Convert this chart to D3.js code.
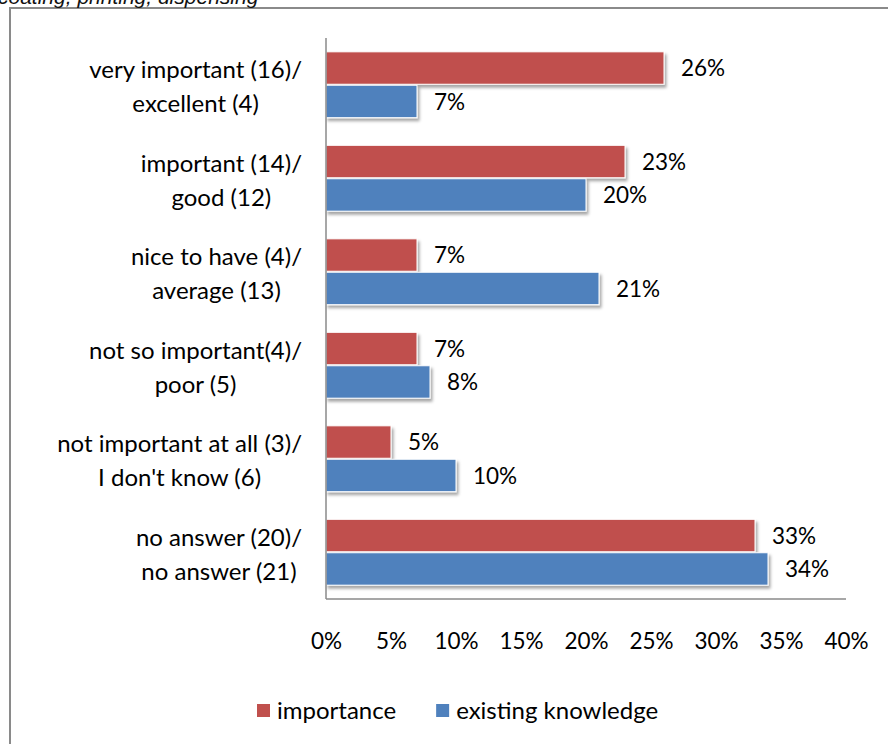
<!DOCTYPE html>
<html>
<head>
<meta charset="utf-8">
<script src="https://cdn.jsdelivr.net/npm/d3@7"></script>
<style>
  html, body { margin: 0; padding: 0; background: #fff; }
  svg { display: block; }
</style>
</head>
<body>
<svg id="chart" width="888" height="744"></svg>
<script>
// Survey answers: rating of importance vs. rating of existing knowledge
const categories = [
  ["very important (16)/", "excellent (4)"],
  ["important (14)/", "good (12)"],
  ["nice to have (4)/", "average (13)"],
  ["not so important(4)/", "poor (5)"],
  ["not important at all (3)/", "I don't know (6)"],
  ["no answer (20)/", "no answer (21)"]
];
const seriesNames = ["importance", "existing knowledge"];
const importance = [26, 23, 7, 7, 5, 33];
const existingKnowledge = [7, 20, 21, 8, 10, 34];
const xTicks = [0, 5, 10, 15, 20, 25, 30, 35, 40];
const colors = ["#C0504D", "#4F81BD"];

const svg = d3.select("#chart");
const font = "Lato, 'Open Sans', sans-serif";
const textSize = 24;
const numSize = 22.5;

// drop shadow for bars
const defs = svg.append("defs");
const f = defs.append("filter").attr("id", "shadow")
  .attr("x", "-5%").attr("y", "-20%").attr("width", "115%").attr("height", "160%");
f.append("feDropShadow").attr("dx", 2).attr("dy", 3).attr("stdDeviation", 1.6)
  .attr("flood-color", "#000").attr("flood-opacity", 0.35);

// outer frame (extends past the right and bottom edges)
svg.append("path")
  .attr("d", "M10,744 L10,8 L888,8")
  .attr("fill", "none").attr("stroke", "#8a8a8a").attr("stroke-width", 2);

// heading text, running off the top edge
svg.append("text")
  .attr("x", -2).attr("y", 4)
  .attr("font-family", "'Liberation Sans', Arial, sans-serif")
  .attr("font-style", "italic").attr("font-size", 21).attr("fill", "#111")
  .text("coating, printing, dispensing");

const plot = { left: 326, right: 846, top: 38, bottom: 599 };

const x = d3.scaleLinear().domain([0, 40]).range([plot.left, plot.right]);
const y = d3.scaleBand().domain(d3.range(categories.length))
  .range([plot.top, plot.bottom]).paddingInner(0.285).paddingOuter(0.1425);
const ySub = d3.scaleBand().domain([0, 1]).range([0, y.bandwidth()]);

const data = categories.map((c, i) => ({
  i, label: c, values: [importance[i], existingKnowledge[i]]
}));

// bars
const groups = svg.append("g").selectAll("g").data(data).join("g")
  .attr("transform", d => `translate(0,${y(d.i)})`);

groups.selectAll("rect").data(d => d.values.map((v, s) => ({ v, s }))).join("rect")
  .attr("x", x(0))
  .attr("y", d => ySub(d.s) + 0.5)
  .attr("width", d => x(d.v) - x(0))
  .attr("height", ySub.bandwidth() - 1)
  .attr("fill", d => colors[d.s])
  .attr("stroke", "#fff").attr("stroke-width", 1)
  .attr("filter", "url(#shadow)");

// value labels
groups.selectAll("text.val").data(d => d.values.map((v, s) => ({ v, s }))).join("text")
  .attr("class", "val")
  .attr("x", d => x(d.v) + 17)
  .attr("y", d => ySub(d.s) + ySub.bandwidth() / 2)
  .attr("dy", "0.36em")
  .attr("font-family", font).attr("font-size", numSize).attr("fill", "#000")
  .text(d => d.v + "%");

// category labels: two centred lines, block right-aligned against the axis
const catG = svg.append("g");
data.forEach(d => {
  const cy = y(d.i) + y.bandwidth() / 2;
  const t = catG.append("g");
  const lines = d.label.map((ln, k) => t.append("text")
    .attr("y", cy + (k === 0 ? -15 : 19))
    .attr("dy", "0.36em")
    .attr("text-anchor", "middle")
    .attr("font-family", font).attr("font-size", textSize).attr("fill", "#000")
    .text(ln));
  const w = d3.max(lines, l => l.node().getComputedTextLength());
  lines.forEach(l => l.attr("x", 302 - w / 2));
});

// vertical category axis line
svg.append("line")
  .attr("x1", plot.left).attr("x2", plot.left)
  .attr("y1", plot.top).attr("y2", plot.bottom)
  .attr("stroke", "#8a8a8a").attr("stroke-width", 1.5);

// horizontal value axis: line plus tick labels
svg.append("line")
  .attr("x1", plot.left).attr("x2", plot.right)
  .attr("y1", plot.bottom).attr("y2", plot.bottom)
  .attr("stroke", "#8a8a8a").attr("stroke-width", 1.5);

const xAxis = d3.axisBottom(x).tickValues(xTicks).tickFormat(d => d + "%")
  .tickSize(0).tickPadding(0);
const ax = svg.append("g").attr("transform", `translate(0,${plot.bottom + 42})`).call(xAxis);
ax.select(".domain").remove();
ax.selectAll("text").attr("dy", "0.36em")
  .attr("font-family", font).attr("font-size", numSize).attr("fill", "#000");

// legend
const legend = svg.append("g").attr("transform", "translate(257,710)");
let lx = 0;
seriesNames.forEach((name, s) => {
  const g = legend.append("g").attr("transform", `translate(${lx},0)`);
  g.append("rect").attr("x", 0).attr("y", -6).attr("width", 13).attr("height", 13)
    .attr("fill", colors[s]);
  const t = g.append("text").attr("x", 20).attr("y", 0).attr("dy", "0.36em")
    .attr("font-family", font).attr("font-size", textSize).attr("fill", "#000").text(name);
  lx += 20 + t.node().getComputedTextLength() + 40;
});
</script>
</body>
</html>
